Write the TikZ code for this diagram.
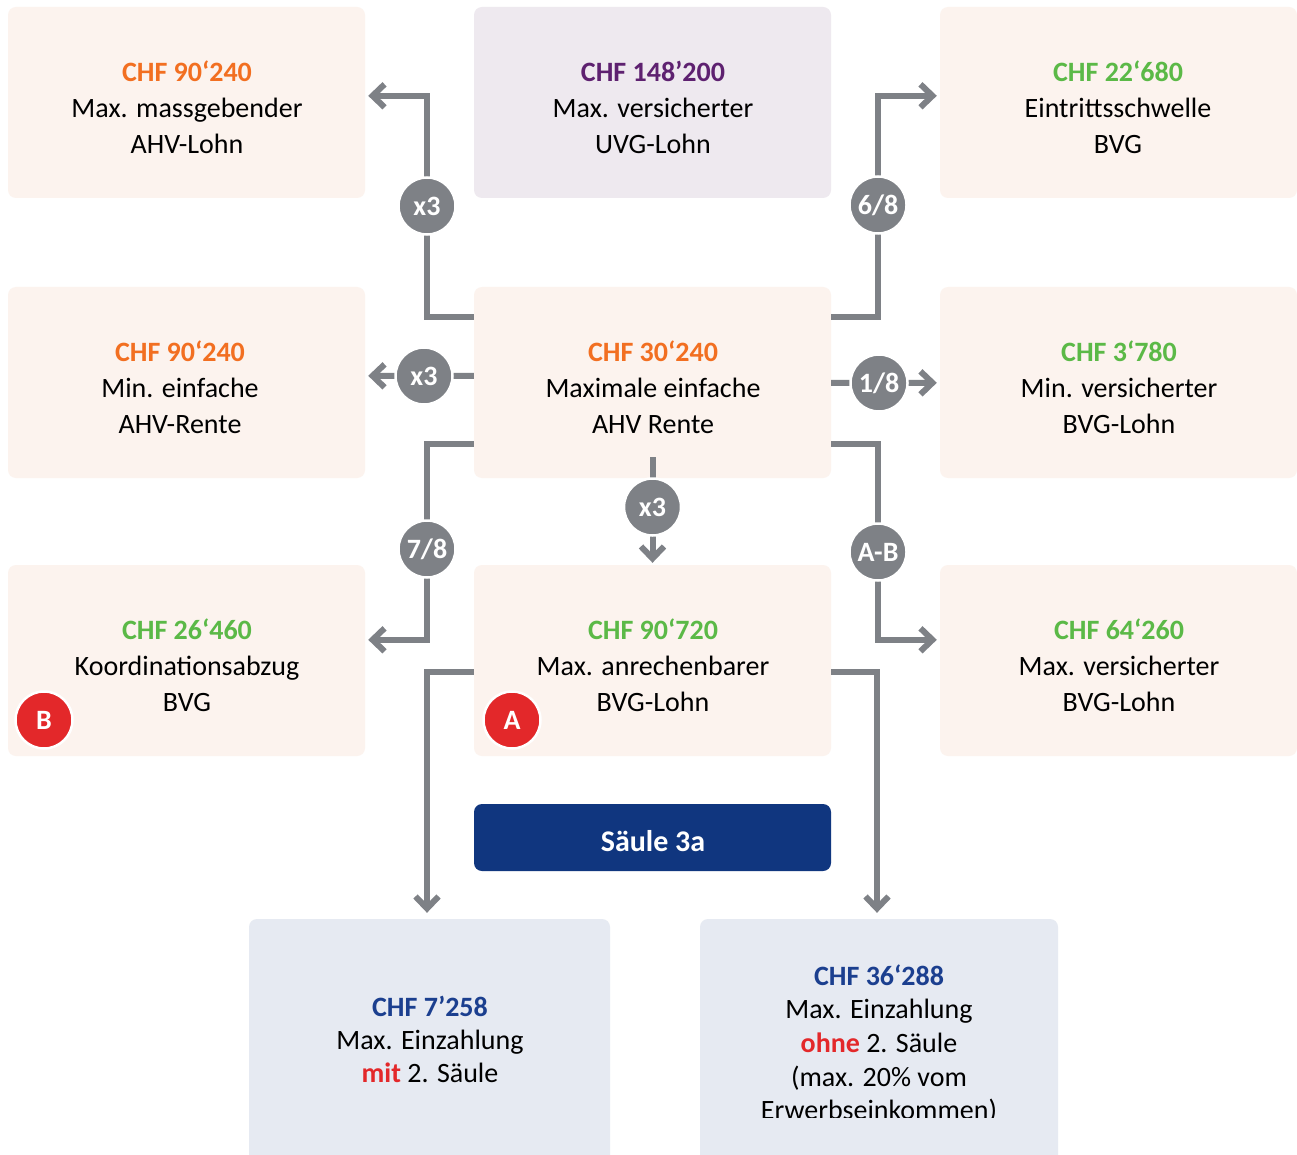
\documentclass[tikz,border=0pt]{standalone}
\usepackage{fontspec}
\setmainfont{Carlito}
\usetikzlibrary{arrows.meta,calc}
\definecolor{peach}{HTML}{FCF3EE}
\definecolor{lilac}{HTML}{EEE9EF}
\definecolor{paleblue}{HTML}{E6EAF2}
\definecolor{navy}{HTML}{10367F}
\definecolor{cgray}{HTML}{7E8186}
\definecolor{corange}{HTML}{F26F21}
\definecolor{cpurple}{HTML}{5E2170}
\definecolor{cgreen}{HTML}{5BB947}
\definecolor{cblue}{HTML}{1B3F8F}
\definecolor{cred}{HTML}{E3282A}
\pgfdeclarelayer{bglayer}
\pgfdeclarelayer{boxlayer}
\pgfdeclarelayer{linelayer}
\pgfsetlayers{bglayer,boxlayer,linelayer,main}
\begin{document}
\begin{tikzpicture}[x=1pt,y=-1pt,
  box/.style={rectangle,rounded corners=8pt,fill=peach,minimum width=357pt,minimum height=191pt,inner sep=0pt},
  bigbox/.style={rectangle,rounded corners=8pt,fill=paleblue,minimum height=256pt,inner sep=0pt},
  txt/.style={align=center,inner sep=0pt,font=\fontsize{28}{36}\selectfont},
  txtb/.style={align=center,inner sep=0pt,font=\fontsize{28}{33}\selectfont},
  badge/.style={circle,fill=cgray,draw=white,line width=2.5pt,minimum size=57pt,inner sep=0pt,text=white,font=\fontsize{28}{30}\selectfont\bfseries},
  redbadge/.style={badge,fill=cred},
  conn/.style={draw=cgray,line width=6pt,-{Straight Barb[length=12pt,width=23pt]}}
]
\begin{pgfonlayer}{bglayer}
\fill[white] (0,0) rectangle (1297,1155);
\end{pgfonlayer}
\useasboundingbox (0,0) rectangle (1297,1155);

\begin{pgfonlayer}{boxlayer}
\node[box] (b11) at (186.5,102.5) {};
\node[box,fill=lilac] (b12) at (652.5,102.5) {};
\node[box] (b13) at (1118.5,102.5) {};
\node[box] (b21) at (186.5,382.5) {};
\node[box] (b22) at (652.5,382.5) {};
\node[box] (b23) at (1118.5,382.5) {};
\node[box] (b31) at (186.5,660.5) {};
\node[box] (b32) at (652.5,660.5) {};
\node[box] (b33) at (1118.5,660.5) {};
\node[rectangle,rounded corners=8pt,fill=navy,minimum width=357pt,minimum height=67pt,inner sep=0pt] (s3a) at (652.5,837.5) {};
\node[bigbox,minimum width=361pt] (bl) at (429.5,1047) {};
\node[bigbox,minimum width=358pt] (br) at (879,1047) {};
\end{pgfonlayer}

% texts
\node[txt] (t11) at (187,107) {{\bfseries\color{corange}CHF 90‘240}\\Max. massgebender\\AHV-Lohn};
\node[txt] (t12) at (653,107) {{\bfseries\color{cpurple}CHF 148’200}\\Max. versicherter\\UVG-Lohn};
\node[txt] (t13) at (1118,107) {{\bfseries\color{cgreen}CHF 22‘680}\\Eintrittsschwelle\\BVG};
\node[txt] (t21) at (180,387) {{\bfseries\color{corange}CHF 90‘240}\\Min. einfache\\AHV-Rente};
\node[txt] (t22) at (653,387) {{\bfseries\color{corange}CHF 30‘240}\\Maximale einfache\\AHV Rente};
\node[txt] (t23) at (1119,387) {{\bfseries\color{cgreen}CHF 3‘780}\\Min. versicherter\\BVG-Lohn};
\node[txt] (t31) at (187,665) {{\bfseries\color{cgreen}CHF 26‘460}\\Koordinationsabzug\\BVG};
\node[txt] (t32) at (653,665) {{\bfseries\color{cgreen}CHF 90‘720}\\Max. anrechenbarer\\BVG-Lohn};
\node[txt] (t33) at (1119,665) {{\bfseries\color{cgreen}CHF 64‘260}\\Max. versicherter\\BVG-Lohn};
\node[inner sep=0pt,text=white,font=\fontsize{30}{32}\selectfont\bfseries] (t3a) at (653,841) {Säule 3a};
\node[txtb] (tbl) at (430,1039.5) {{\bfseries\color{cblue}CHF 7’258}\\Max. Einzahlung\\{\bfseries\color{cred}mit} 2. Säule};
\begin{scope}
\clip (700,919) rectangle (1058,1117.5);
\node[txtb,font=\fontsize{28}{33.7}\selectfont] (tbr) at (879,1044) {{\bfseries\color{cblue}CHF 36‘288}\\Max. Einzahlung\\{\bfseries\color{cred}ohne} 2. Säule\\(max. 20\% vom\\Erwerbseinkommen)};
\end{scope}

% badges
\node[badge] (q1) at (427,206) {x3};
\node[badge] (q2) at (878,205) {6/8};
\node[badge] (q3) at (424,376) {x3};
\node[badge] (q4) at (879,383) {1/8};
\node[badge] (q5) at (652.5,507) {x3};
\node[badge] (q6) at (427,549) {7/8};
\node[badge] (q7) at (878,552) {A-B};
\node[redbadge] (rb) at (44,720) {B};
\node[redbadge] (ra) at (512,720) {A};

% connectors
\begin{pgfonlayer}{linelayer}
\draw[conn] ($(b22.north west)+(0,30)$) -| (q1.center) |- ($(b11.north east)+(3,89)$);
\draw[conn] ($(b22.north east)+(0,30)$) -| (q2.center) |- ($(b13.north west)+(-3,89)$);
\draw[conn] ($(b22.north west)+(0,89)$) -- (q3.center) -- ($(b21.north east)+(3,89)$);
\draw[conn] ($(b22.north east)+(0,96)$) -- (q4.center) -- ($(b23.north west)+(-3,96)$);
\draw[conn] ($(b22.south west)+(0,-34)$) -| (q6.center) |- ($(b31.north east)+(3,75)$);
\draw[conn] ($(b22.south east)+(0,-34)$) -| (q7.center) |- ($(b33.north west)+(-3,75)$);
\draw[conn] ($(b22.south)+(0,-21)$) -- (q5.center) -- ($(b32.north)+(0,-2)$);
\draw[conn] ($(b32.north west)+(0,107)$) -| ($(bl.north)+(-2.5,-6)$);
\draw[conn] ($(b32.north east)+(0,107)$) -| ($(br.north)+(-2,-6)$);
\end{pgfonlayer}
\end{tikzpicture}
\end{document}
